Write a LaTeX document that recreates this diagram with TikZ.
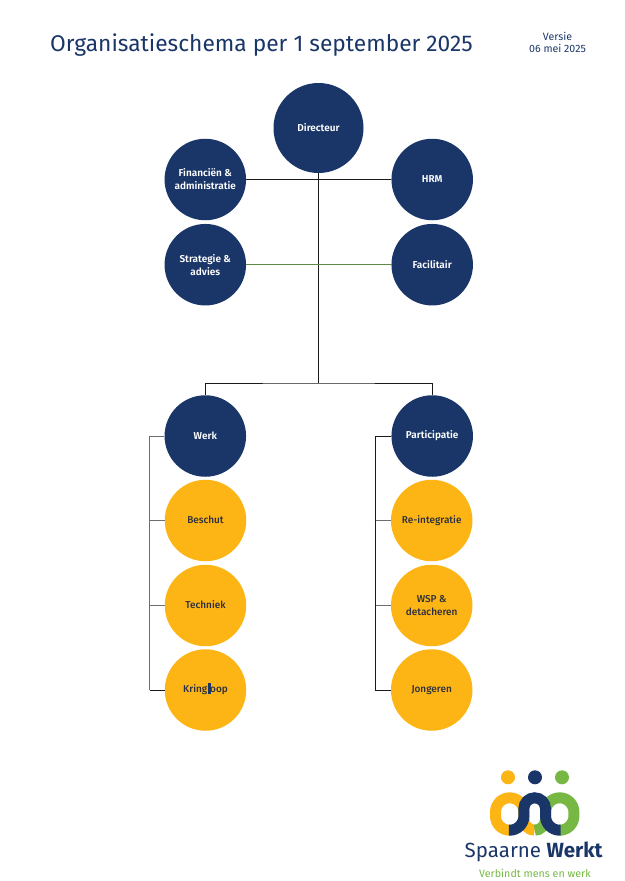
\documentclass[tikz,border=0pt]{standalone}
\usepackage{fontspec}
\setmainfont{Fira Sans}
\newfontfamily\fsmedium{Fira Sans Medium}
\newfontfamily\fssemi{Fira Sans SemiBold}
\definecolor{navy}{HTML}{1A3668}
\definecolor{gold}{HTML}{FDB515}
\definecolor{lgreen}{HTML}{76B843}
\definecolor{ink}{HTML}{2B2F3F}
\definecolor{wire}{HTML}{1A1A1A}
\definecolor{wiregreen}{HTML}{5F8A45}
\definecolor{wiregray}{HTML}{6E6E6E}
\tikzset{
  navyc/.style={circle,fill=navy,minimum size=#1,inner sep=0pt,text=white,align=center,font=\fontsize{10}{13}\selectfont\fssemi},
  navyc/.default=81.5pt,
  goldc/.style={circle,fill=gold,minimum size=81.5pt,inner sep=0pt,text=ink,align=center,font=\fontsize{10}{13}\selectfont\fsmedium},
  wireln/.style={draw=wire,line width=0.9pt},
  logoln/.style={line width=11pt,line cap=butt},
}
\begin{document}
\begin{tikzpicture}[x=1pt,y=-1pt]
\useasboundingbox (0,0) rectangle (624,881);
\coordinate (jc) at (318.5,383);
\coordinate (wl) at (149.7,436);
\coordinate (pl) at (375.7,436);
\coordinate (wb) at (149.7,520.5);
\coordinate (wt) at (149.7,605.5);
\coordinate (wk) at (149.7,690);
\coordinate (pb) at (375.7,520.5);
\coordinate (pt) at (375.7,605.5);
\coordinate (pk) at (375.7,690);
% nodes
\node[navyc=90pt] (dir) at (318.5,128) {Directeur};
\node[navyc] (fin) at (205.3,179.5) {Financiën \&\\administratie};
\node[navyc] (hrm) at (432.2,179.5) {\raisebox{1.5pt}{HRM}};
\node[navyc] (str) at (205.3,264.7) {Strategie \&\\advies};
\node[navyc] (fac) at (432.2,264.7) {Facilitair};
\node[navyc] (werk) at (205.3,436) {Werk};
\node[navyc] (par) at (432.2,436) {Participatie};
\node[goldc] (bes) at (205.5,520.5) {\raisebox{1pt}{Beschut}};
\node[goldc] (tec) at (205.5,605.5) {\raisebox{1pt}{Techniek}};
\node[goldc] (kri) at (205.5,690) {Kringloop};
\node[goldc] (rei) at (431.7,520.5) {\raisebox{1pt}{Re-integratie}};
\node[goldc] (wsp) at (431.7,605.5) {WSP \&\\detacheren};
\node[goldc] (jon) at (431.7,690) {Jongeren};
\fill[navy] (208,683) rectangle (211,694);
% connectors
\draw[wireln] (dir.south) -- (jc);
\draw[wireln] (fin.east) -- (hrm.west);
\draw[draw=wiregreen,line width=1pt] (str.east) -- (fac.west);
\draw[wireln] (werk.north) |- (jc) -| (par.north);
\draw[wireln,draw=wiregray] (werk.west) -- (wl) -- (wk);
\draw[wireln] (wk) -- (kri.west);
\draw[wireln,draw=wiregray] (wb) -- (bes.west);
\draw[wireln,draw=wiregray] (wt) -- (tec.west);
\draw[wireln] (par.west) -- (pl) -- (pk) -- (jon.west);
\draw[wireln,draw=wiregray] (pb) -- (rei.west);
\draw[wireln,draw=wiregray] (pt) -- (wsp.west);
% title
\node[anchor=west,text=navy,inner sep=0pt,font=\fontsize{22.75}{27}\selectfont] (title) at (50,45) {Organisatieschema per 1 september 2025};
\node[text=navy,align=center,inner sep=0pt,font=\fontsize{10.6}{12.5}\selectfont] (ver) at (557.5,42.5) {Versie\\06 mei 2025};
% logo
\fill[gold] (508,777.3) circle (7);
\fill[navy] (535,777.3) circle (7);
\fill[lgreen] (562,777.3) circle (7);
\draw[gold,logoln] (509.7,830.2) arc (90:180:14.2) -- (495.5,812) arc (180:360:14.2) -- (523.9,819.4) arc (180:90:10.8);
\draw[lgreen,logoln] (559.7,830.2) arc (90:0:14.2) -- (573.9,812) arc (360:180:14.2) -- (545.5,819.4) arc (0:90:10.8);
\draw[navy,logoln] (508.9,830.2) -- (509.7,830.2) arc (90:0:14.2) -- (523.9,808.6) arc (180:360:10.8) -- (545.5,816) arc (180:90:14.2) -- (560.5,830.2);
\node[anchor=base west,text=navy,inner sep=0pt,font=\fontsize{20.5}{24}\selectfont] (sw) at (464.5,857) {Spaarne \textbf{Werkt}};
\node[anchor=base west,text=lgreen,inner sep=0pt,font=\fontsize{10.7}{13}\selectfont] (vm) at (479,877) {Verbindt mens en werk};
\end{tikzpicture}
\end{document}
